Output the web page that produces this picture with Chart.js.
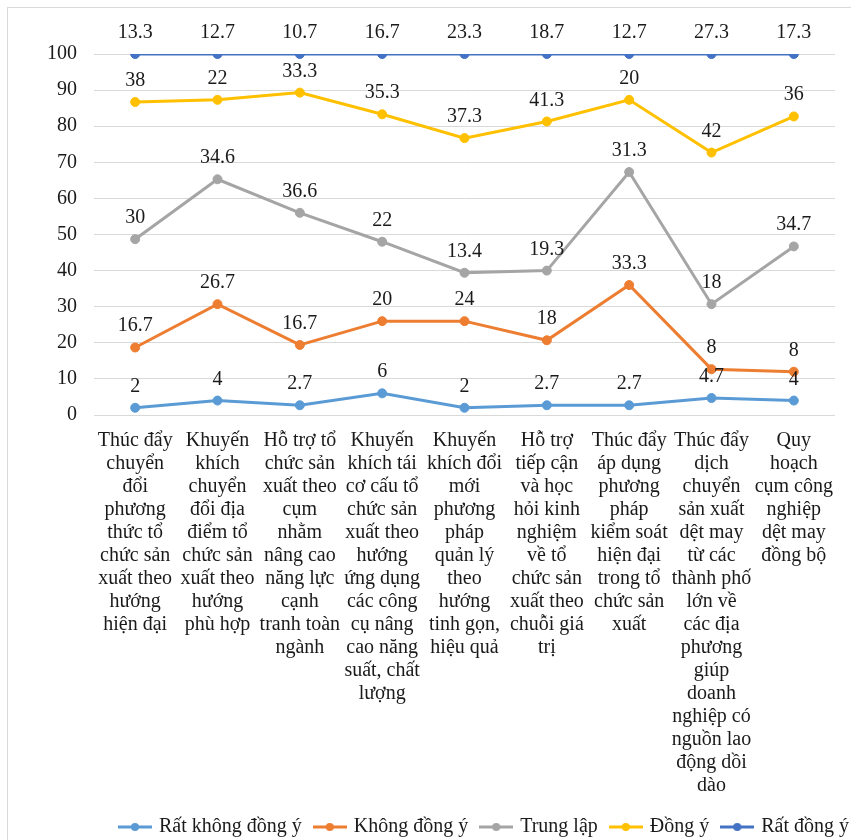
<!DOCTYPE html>
<html>
<head>
<meta charset="utf-8">
<script src="https://cdn.jsdelivr.net/npm/chart.js@4.4.1/dist/chart.umd.min.js"></script>
<style>
  html, body { margin: 0; padding: 0; background: #fff; overflow: hidden; }
  #frame { position: absolute; left: 7px; top: 7px; width: 1000px; height: 900px; border: 1px solid #d9d9d9; }
  #wrap { position: absolute; left: 0; top: 0; width: 970px; height: 847px; }
</style>
</head>
<body>
<div id="frame"></div>
<div id="wrap"><canvas id="chart"></canvas></div>
<script>
// Nhãn trục hoành (đã ngắt dòng như hình gốc)
const categories = [
  ["Thúc đẩy", "chuyển", "đổi", "phương", "thức tổ", "chức sản", "xuất theo", "hướng", "hiện đại"],
  ["Khuyến", "khích", "chuyển", "đổi địa", "điểm tổ", "chức sản", "xuất theo", "hướng", "phù hợp"],
  ["Hỗ trợ tổ", "chức sản", "xuất theo", "cụm", "nhằm", "nâng cao", "năng lực", "cạnh", "tranh toàn", "ngành"],
  ["Khuyến", "khích tái", "cơ cấu tổ", "chức sản", "xuất theo", "hướng", "ứng dụng", "các công", "cụ nâng", "cao năng", "suất, chất", "lượng"],
  ["Khuyến", "khích đổi", "mới", "phương", "pháp", "quản lý", "theo", "hướng", "tinh gọn,", "hiệu quả"],
  ["Hỗ trợ", "tiếp cận", "và học", "hỏi kinh", "nghiệm", "về tổ", "chức sản", "xuất theo", "chuỗi giá", "trị"],
  ["Thúc đẩy", "áp dụng", "phương", "pháp", "kiểm soát", "hiện đại", "trong tổ", "chức sản", "xuất"],
  ["Thúc đẩy", "dịch", "chuyển", "sản xuất", "dệt may", "từ các", "thành phố", "lớn về", "các địa", "phương", "giúp", "doanh", "nghiệp có", "nguồn lao", "động dồi", "dào"],
  ["Quy", "hoạch", "cụm công", "nghiệp", "dệt may", "đồng bộ"]
];

// Tỷ lệ (%) từng mức đánh giá
const ratKhongDongY = [2, 4, 2.7, 6, 2, 2.7, 2.7, 4.7, 4];
const khongDongY = [16.7, 26.7, 16.7, 20, 24, 18, 33.3, 8, 8];
const trungLap = [30, 34.6, 36.6, 22, 13.4, 19.3, 31.3, 18, 34.7];
const dongY = [38, 22, 33.3, 35.3, 37.3, 41.3, 20, 42, 36];
const ratDongY = [13.3, 12.7, 10.7, 16.7, 23.3, 18.7, 12.7, 27.3, 17.3];

const seriesNames = ["Rất không đồng ý", "Không đồng ý", "Trung lập", "Đồng ý", "Rất đồng ý"];
const seriesColors = ["#5B9BD5", "#ED7D31", "#A5A5A5", "#FFC000", "#4472C4"];
const yTicks = { min: 0, max: 100, step: 10 };

const FONT = '"Liberation Serif", "Times New Roman", serif';
const TEXT = "#1a1a1a";

// Ký hiệu chú giải: đoạn thẳng + chấm tròn
function makeMarker(color) {
  const c = document.createElement("canvas");
  c.width = 34; c.height = 10;
  const g = c.getContext("2d");
  g.strokeStyle = color; g.lineWidth = 3;
  g.beginPath(); g.moveTo(0, 5); g.lineTo(34, 5); g.stroke();
  g.fillStyle = color;
  g.beginPath(); g.arc(17, 5, 4, 0, Math.PI * 2); g.fill();
  return c;
}

// Nhãn giá trị phía trên mỗi điểm
const valueLabels = {
  id: "valueLabels",
  afterDatasetsDraw(chart) {
    const ctx = chart.ctx;
    ctx.save();
    ctx.font = "20px " + FONT;
    ctx.fillStyle = TEXT;
    ctx.textAlign = "center";
    ctx.textBaseline = "alphabetic";
    chart.data.datasets.forEach((ds, i) => {
      chart.getDatasetMeta(i).data.forEach((pt, j) => {
        ctx.fillText(String(ds.data[j]), pt.x, pt.y - 16);
      });
    });
    ctx.restore();
  }
};

const allSeries = [ratKhongDongY, khongDongY, trungLap, dongY, ratDongY];

const chart = new Chart(document.getElementById("chart"), {
  type: "line",
  data: {
    labels: categories,
    datasets: allSeries.map((vals, i) => ({
      label: seriesNames[i],
      data: vals,
      borderColor: seriesColors[i],
      backgroundColor: seriesColors[i],
      borderWidth: 3,
      pointRadius: 4.5,
      pointBorderWidth: 1,
      pointHoverRadius: 4.5,
      fill: false,
      tension: 0
    }))
  },
  options: {
    responsive: true,
    maintainAspectRatio: false,
    animation: false,
    layout: { padding: { top: 54, left: 0, right: 0, bottom: 0 } },
    scales: {
      x: {
        offset: true,
        grid: { display: false, drawTicks: false },
        border: { display: false },
        ticks: {
          autoSkip: false,
          maxRotation: 0,
          minRotation: 0,
          padding: 14.5,
          color: TEXT,
          font: { family: FONT, size: 20, lineHeight: 1.15 }
        },
        afterFit(s) { s.height -= 8.5; }
      },
      y: {
        stacked: true,
        min: yTicks.min,
        max: yTicks.max,
        grid: { color: "#d9d9d9", lineWidth: 1, drawTicks: false },
        border: { display: false },
        ticks: {
          stepSize: yTicks.step,
          padding: 17,
          color: TEXT,
          font: { family: FONT, size: 20 }
        },
        afterFit(s) { s.width = 94; }
      },
      spacer: {
        position: "right",
        display: true,
        grid: { display: false },
        border: { display: false },
        ticks: { display: false },
        afterFit(s) { s.width = 135; }
      }
    },
    plugins: {
      tooltip: { enabled: false },
      legend: {
        position: "bottom",
        labels: {
          usePointStyle: true,
          pointStyleWidth: 28,
          padding: 14,
          color: TEXT,
          font: { family: FONT, size: 20 },
          generateLabels(ch) {
            const items = Chart.defaults.plugins.legend.labels.generateLabels(ch);
            items.forEach((it, i) => { it.pointStyle = makeMarker(seriesColors[i]); });
            return items;
          }
        }
      }
    }
  },
  plugins: [valueLabels]
});
</script>
</body>
</html>
